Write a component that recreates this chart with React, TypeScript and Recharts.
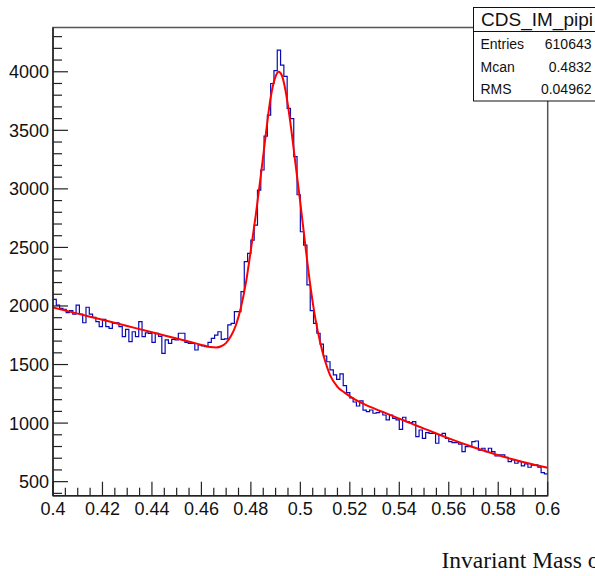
import { LineChart, Line, XAxis, YAxis, ReferenceArea } from "recharts";

// histogram binning (150 bins between 0.4 and 0.6)
const HIST_MIN = 0.4;
const HIST_MAX = 0.6;
const N_BINS = 150;

// bin contents
const histCounts = [
  2057, 2008, 1980, 1972, 1943, 1960, 1930, 2008, 1930, 1857,
  1989, 1930, 1903, 1866, 1823, 1886, 1823, 1809, 1852, 1857,
  1823, 1738, 1800, 1695, 1780, 1738, 1866, 1738, 1770, 1765,
  1690, 1766, 1740, 1596, 1710, 1681, 1715, 1710, 1767, 1767,
  1690, 1681, 1681, 1624, 1667, 1660, 1652, 1690, 1724, 1752,
  1780, 1715, 1720, 1838, 1852, 1952, 1952, 2122, 2378, 2450,
  2563, 2691, 2990, 3161, 3450, 3630, 3900, 4010, 4185, 4057,
  3960, 3687, 3600, 3275, 2950, 2634, 2520, 2180, 1960, 1852,
  1767, 1675, 1573, 1524, 1454, 1411, 1374, 1420, 1320, 1260,
  1215, 1180, 1146, 1190, 1110, 1098, 1112, 1084, 1090, 1098,
  1069, 1027, 1069, 1041, 1027, 947, 1050, 1012, 1004, 1012,
  884, 941, 870, 918, 913, 913, 828, 899, 913, 870,
  842, 833, 833, 820, 756, 799, 799, 841, 847, 770,
  785, 756, 785, 756, 719, 728, 728, 708, 671, 685,
  657, 671, 634, 651, 623, 640, 643, 623, 577, 566,
];

// fit curve (red), sampled points
const fitX = [
  0.4, 0.41, 0.42, 0.43, 0.44, 0.45, 0.456, 0.46, 0.4635, 0.466,
  0.468, 0.47, 0.472, 0.474, 0.476, 0.478, 0.48, 0.482, 0.484, 0.486,
  0.488, 0.49, 0.4912, 0.4925, 0.494, 0.496, 0.498, 0.5, 0.502, 0.504,
  0.506, 0.508, 0.51, 0.512, 0.515, 0.518, 0.522, 0.526, 0.53, 0.535,
  0.54, 0.545, 0.55, 0.555, 0.56, 0.565, 0.57, 0.575, 0.58, 0.585,
  0.59, 0.595, 0.6,
];
const fitY = [
  1988, 1935, 1882, 1829, 1776, 1722, 1690, 1668, 1650, 1646,
  1656, 1685, 1745, 1840, 1990, 2200, 2480, 2780, 3110, 3460,
  3780, 3960, 4000, 3970, 3840, 3560, 3220, 2880, 2520, 2180,
  1900, 1690, 1530, 1410, 1310, 1258, 1203, 1160, 1124, 1081,
  1038, 995, 953, 911, 870, 831, 794, 759, 726, 696,
  668, 642, 618,
];

// axes
const xMajorTicks = [0.4, 0.42, 0.44, 0.46, 0.48, 0.5, 0.52, 0.54, 0.56, 0.58, 0.6];
const xTickLabels = ["0.4", "0.42", "0.44", "0.46", "0.48", "0.5", "0.52", "0.54", "0.56", "0.58", "0.6"];
const yMajorTicks = [500, 1000, 1500, 2000, 2500, 3000, 3500, 4000];
const yTickLabels = ["500", "1000", "1500", "2000", "2500", "3000", "3500", "4000"];
const yDomain = [380, 4378];

// stats box
const statsTitle = "CDS_IM_pipi";
const statsNames = ["Entries", "Mcan", "RMS"];
const statsValues = ["610643", "0.4832", "0.04962"];
const caption = "Invariant Mass of";

const binWidth = (HIST_MAX - HIST_MIN) / N_BINS;
const histData = histCounts.map((c, i) => ({ x: HIST_MIN + i * binWidth, y: c }));
histData.push({ x: HIST_MAX, y: histCounts[histCounts.length - 1] });

const fitData = fitX.map((x, i) => ({ x, y: fitY[i] }));

// minor ticks: every 0.005 on x, every 100 on y
const xAllTicks: number[] = [];
for (let i = 0; i <= 40; i++) xAllTicks.push(Math.round((0.4 + i * 0.005) * 1000) / 1000);
const yAllTicks: number[] = [];
for (let v = 400; v <= 4300; v += 100) yAllTicks.push(v);

const tickFont = "'Liberation Sans', Arial, sans-serif";
const axisColor = "#222";

const XTick = (props: any) => {
  const { x, y, payload } = props;
  const idx = xMajorTicks.findIndex((t) => Math.abs(t - payload.value) < 1e-6);
  const major = idx >= 0;
  return (
    <g>
      <line x1={x} x2={x} y1={y} y2={y - (major ? 14 : 8)} stroke={axisColor} strokeWidth={1.2} />
      {major && (
        <text x={x} y={y + 19} textAnchor="middle" fontSize={18} fontFamily={tickFont} fill="#111">
          {xTickLabels[idx]}
        </text>
      )}
    </g>
  );
};

const YTick = (props: any) => {
  const { x, y, payload } = props;
  const idx = yMajorTicks.indexOf(payload.value);
  const major = idx >= 0;
  return (
    <g>
      <line x1={x} x2={x + (major ? 15 : 9)} y1={y} y2={y} stroke={axisColor} strokeWidth={1.2} />
      {major && (
        <text x={x - 4} y={y + 6.5} textAnchor="end" fontSize={18} fontFamily={tickFont} fill="#111">
          {yTickLabels[idx]}
        </text>
      )}
    </g>
  );
};

export default function App() {
  return (
    <div style={{ position: "absolute", left: 0, top: 0, width: 595, height: 576, background: "#fff", overflow: "hidden" }}>
      <LineChart width={595} height={576} margin={{ top: 27.5, right: 47.3, bottom: 50.3, left: 0 }}>
        <ReferenceArea
          x1={HIST_MIN}
          x2={HIST_MAX}
          y1={yDomain[0]}
          y2={yDomain[1]}
          fill="none"
          stroke="#555"
          strokeWidth={1.5}
          fillOpacity={0}
        />
        <XAxis
          type="number"
          dataKey="x"
          domain={[HIST_MIN, HIST_MAX]}
          ticks={xAllTicks}
          interval={0}
          allowDataOverflow
          height={30}
          tickSize={0}
          tickMargin={0}
          tickLine={false}
          stroke={axisColor}
          strokeWidth={1.5}
          tick={<XTick />}
        />
        <YAxis
          type="number"
          dataKey="y"
          domain={yDomain}
          ticks={yAllTicks}
          interval={0}
          allowDataOverflow
          width={53}
          tickSize={0}
          tickMargin={0}
          tickLine={false}
          stroke={axisColor}
          strokeWidth={1.5}
          tick={<YTick />}
        />
        <Line
          data={histData}
          dataKey="y"
          type="stepAfter"
          stroke="#0a0ab4"
          strokeWidth={1.2}
          dot={false}
          isAnimationActive={false}
        />
        <Line
          data={fitData}
          dataKey="y"
          type="monotone"
          stroke="#ff0000"
          strokeWidth={2}
          dot={false}
          isAnimationActive={false}
        />
      </LineChart>
      <svg
        width={595}
        height={576}
        style={{ position: "absolute", left: 0, top: 0, pointerEvents: "none" }}
      >
        <rect x={473.5} y={7.5} width={130} height={93.5} fill="#fff" stroke="#111" strokeWidth={1} />
        <line x1={473.5} x2={603.5} y1={31.5} y2={31.5} stroke="#111" strokeWidth={1} />
        <text x={537} y={26} textAnchor="middle" fontSize={19} fontFamily={tickFont} fill="#111">
          {statsTitle}
        </text>
        {statsNames.map((n, i) => (
          <g key={n}>
            <text x={480.5} y={49 + i * 22.7} fontSize={14} fontFamily={tickFont} fill="#111">
              {n}
            </text>
            <text x={591.5} y={49 + i * 22.7} textAnchor="end" fontSize={14} fontFamily={tickFont} fill="#111">
              {statsValues[i]}
            </text>
          </g>
        ))}
        <text
          x={441.5}
          y={568}
          fontSize={23.5}
          fontFamily="'Liberation Serif', 'Times New Roman', serif"
          fill="#111"
        >
          {caption}
        </text>
      </svg>
    </div>
  );
}
